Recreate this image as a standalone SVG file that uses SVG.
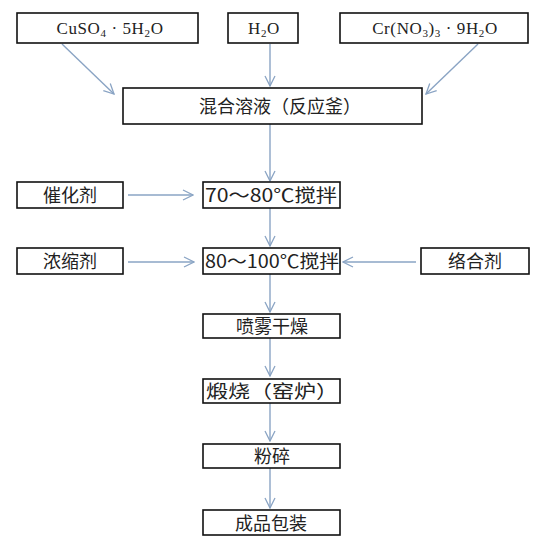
<svg xmlns="http://www.w3.org/2000/svg" width="550" height="547" viewBox="0 0 550 547">
<defs>
<marker id="arr" viewBox="0 0 12 12" refX="11" refY="6" markerWidth="12" markerHeight="12" markerUnits="userSpaceOnUse" orient="auto">
<path d="M1,1 L11,6 L1,11" fill="none" stroke="#8aa4c4" stroke-width="1.3"/>
</marker>
<style>
.box{fill:#fff;stroke:#111;stroke-width:1.6}
.zh{font-family:"Noto Sans CJK SC","Noto Sans",sans-serif;font-size:18px;fill:#222}
.fm{font-family:"Liberation Serif","DejaVu Serif",serif;font-size:17px;fill:#222;letter-spacing:0.6px}
.sub{font-size:11px}
.c{stroke:#8aa4c4;stroke-width:1.4;fill:none;marker-end:url(#arr)}
</style>
</defs>
<rect width="550" height="547" fill="#fff"/>
<g id="connectors">
<path class="c" d="M62,44 L114,94"/>
<path class="c" d="M270,44 L270,86"/>
<path class="c" d="M478,44 L426,94"/>
<path class="c" d="M270,124 L270,181"/>
<path class="c" d="M128,195 L193,195"/>
<path class="c" d="M270,208 L270,246"/>
<path class="c" d="M128,262 L194,262"/>
<path class="c" d="M416,262 L343,262"/>
<path class="c" d="M270,274 L270,312"/>
<path class="c" d="M270,338 L270,376"/>
<path class="c" d="M270,403 L270,441"/>
<path class="c" d="M270,468 L270,508"/>
</g>
<g id="n-cuso4">
<rect class="box" x="17" y="13" width="181" height="30"/>
<text class="fm" x="110" y="34" text-anchor="middle">CuSO<tspan class="sub" dy="3">4</tspan><tspan dy="-3"> · 5H</tspan><tspan class="sub" dy="3">2</tspan><tspan dy="-3">O</tspan></text>
</g>
<g id="n-h2o">
<rect class="box" x="228" y="13" width="70" height="30"/>
<text class="fm" x="264" y="34" text-anchor="middle">H<tspan class="sub" dy="3">2</tspan><tspan dy="-3">O</tspan></text>
</g>
<g id="n-cr">
<rect class="box" x="340" y="13" width="188" height="30"/>
<text class="fm" x="435" y="34" text-anchor="middle">Cr(NO<tspan class="sub" dy="3">3</tspan><tspan dy="-3">)</tspan><tspan class="sub" dy="3">3</tspan><tspan dy="-3"> · 9H</tspan><tspan class="sub" dy="3">2</tspan><tspan dy="-3">O</tspan></text>
</g>
<g id="n-mix">
<rect class="box" x="123" y="88" width="299" height="36"/>
<text class="zh" x="280" y="113" text-anchor="middle" font-size="19">混合溶液（反应釜）</text>
</g>
<g id="n-catalyst">
<rect class="box" x="17" y="182" width="106" height="26"/>
<text class="zh" x="70" y="202" text-anchor="middle">催化剂</text>
</g>
<g id="n-stir1">
<rect class="box" x="203" y="182" width="137" height="26"/>
<text class="zh" x="205" y="202" textLength="132" lengthAdjust="spacingAndGlyphs">70～80℃搅拌</text>
</g>
<g id="n-conc">
<rect class="box" x="17" y="248" width="106" height="26"/>
<text class="zh" x="70" y="268" text-anchor="middle">浓缩剂</text>
</g>
<g id="n-stir2">
<rect class="box" x="203" y="248" width="137" height="26"/>
<text class="zh" x="205" y="268" textLength="134" lengthAdjust="spacingAndGlyphs">80～100℃搅拌</text>
</g>
<g id="n-complex">
<rect class="box" x="421" y="248" width="108" height="26"/>
<text class="zh" x="475" y="268" text-anchor="middle">络合剂</text>
</g>
<g id="n-spray">
<rect class="box" x="203" y="314" width="137" height="24"/>
<text class="zh" x="272" y="333" text-anchor="middle">喷雾干燥</text>
</g>
<g id="n-calcine">
<rect class="box" x="203" y="379" width="137" height="24"/>
<text class="zh" x="206" y="398" textLength="132" lengthAdjust="spacingAndGlyphs">煅烧（窑炉）</text>
</g>
<g id="n-crush">
<rect class="box" x="203" y="444" width="137" height="24"/>
<text class="zh" x="272" y="463" text-anchor="middle">粉碎</text>
</g>
<g id="n-pack">
<rect class="box" x="203" y="510" width="137" height="25"/>
<text class="zh" x="271" y="530" text-anchor="middle">成品包装</text>
</g>
</svg>
